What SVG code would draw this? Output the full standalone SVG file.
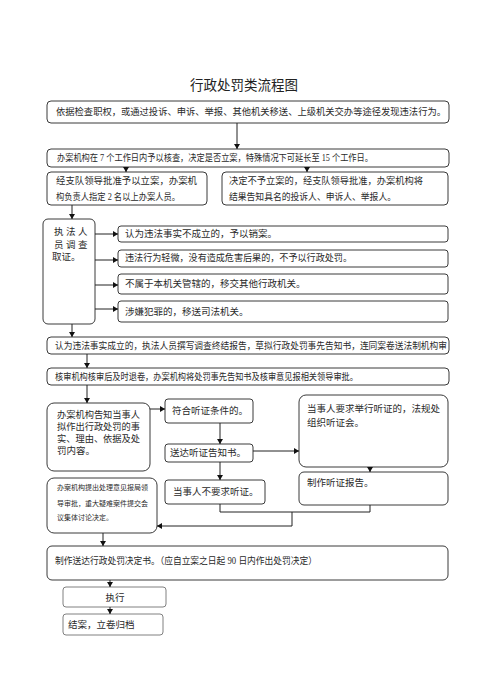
<svg xmlns="http://www.w3.org/2000/svg" width="487" height="699" viewBox="0 0 487 699">
<style>
  .box { fill: #fff; stroke: #3a3a3a; stroke-width: 1; }
  .box2 { fill: #fff; stroke: #808080; stroke-width: 1; }
  text { font-family: "Liberation Serif", "Noto Sans CJK SC", serif; font-size: 9.5px; fill: #2a2a2a; dominant-baseline: central; }
  .sm { font-size: 7px; }
  .title { font-family: "Liberation Sans", "Noto Sans CJK SC", sans-serif; font-size: 13.5px; fill: #222; }
  .c { fill: none; stroke: #222; stroke-width: 1; }
  .a { marker-end: url(#ah); }
</style>
<defs>
  <marker id="ah" markerWidth="6" markerHeight="6" refX="5" refY="3" orient="auto" markerUnits="userSpaceOnUse">
    <path d="M0,0 L5,3 L0,6 Z" fill="#111"/>
  </marker>
</defs>
<rect width="487" height="699" fill="#fff"/>
<text class="title" x="244" y="85" text-anchor="middle">行政处罚类流程图</text>

<g id="n1"><rect class="box" x="47" y="101" width="402" height="22" rx="4"/><text x="56" y="112" textLength="390" lengthAdjust="spacingAndGlyphs">依据检查职权，或通过投诉、申诉、举报、其他机关移送、上级机关交办等途径发现违法行为。</text></g>
<g id="n2"><rect class="box" x="47" y="149" width="402" height="18" rx="4"/><text x="57" y="158" textLength="316" lengthAdjust="spacingAndGlyphs">办案机构在 7 个工作日内予以核查，决定是否立案，特殊情况下可延长至 15 个工作日。</text></g>
<g id="n3"><rect class="box" x="47" y="172" width="160" height="33" rx="4"/><text x="56" y="181" textLength="141" lengthAdjust="spacingAndGlyphs">经支队领导批准予以立案，办案机</text><text x="56" y="197" textLength="124" lengthAdjust="spacingAndGlyphs">构负责人指定 2 名以上办案人员。</text></g>
<g id="n4"><rect class="box" x="222" y="172" width="226" height="33" rx="4"/><text x="229" y="181" textLength="194" lengthAdjust="spacingAndGlyphs">决定不予立案的，经支队领导批准，办案机构将</text><text x="229" y="197" textLength="167" lengthAdjust="spacingAndGlyphs">结果告知具名的投诉人、申诉人、举报人。</text></g>
<g id="n5"><rect class="box" x="43" y="219" width="52" height="105" rx="5"/><text y="232"><tspan x="54">执</tspan> <tspan x="66">法</tspan> <tspan x="78">人</tspan></text><text y="245"><tspan x="54">员</tspan> <tspan x="66">调</tspan> <tspan x="78">查</tspan></text><text x="52" y="257">取证。</text></g>
<g id="n6"><rect class="box" x="118" y="226" width="330" height="16" rx="3"/><text x="125" y="234">认为违法事实不成立的，予以销案。</text></g>
<g id="n7"><rect class="box" x="118" y="250" width="330" height="17" rx="3"/><text x="125" y="258" textLength="227" lengthAdjust="spacingAndGlyphs">违法行为轻微，没有造成危害后果的，不予以行政处罚。</text></g>
<g id="n8"><rect class="box" x="118" y="274" width="330" height="20" rx="3"/><text x="125" y="284">不属于本机关管辖的，移交其他行政机关。</text></g>
<g id="n9"><rect class="box" x="118" y="301" width="330" height="21" rx="3"/><text x="125" y="312">涉嫌犯罪的，移送司法机关。</text></g>
<g id="n10"><rect class="box" x="47" y="337" width="402" height="17" rx="4"/><text x="55" y="346" textLength="392" lengthAdjust="spacingAndGlyphs">认为违法事实成立的，执法人员撰写调查终结报告，草拟行政处罚事先告知书，连同案卷送法制机构审</text></g>
<g id="n11"><rect class="box" x="47" y="368" width="402" height="17" rx="4"/><text x="55" y="377" textLength="303" lengthAdjust="spacingAndGlyphs">核审机构核审后及时退卷，办案机构将处罚事先告知书及核审意见报相关领导审批。</text></g>
<g id="n12"><rect class="box" x="47" y="403" width="103" height="68" rx="7"/><text x="57" y="415" textLength="83" lengthAdjust="spacingAndGlyphs">办案机构告知当事人</text><text x="57" y="427" textLength="83" lengthAdjust="spacingAndGlyphs">拟作出行政处罚的事</text><text x="57" y="439" textLength="83" lengthAdjust="spacingAndGlyphs">实、理由、依据及处</text><text x="57" y="451">罚内容。</text></g>
<g id="n13"><rect class="box" x="165" y="399" width="88" height="24" rx="3"/><text x="172" y="411">符合听证条件的。</text></g>
<g id="n14"><rect class="box" x="165" y="444" width="88" height="18" rx="3"/><text x="170" y="453">送达听证告知书。</text></g>
<g id="n15"><rect class="box" x="299" y="395" width="149" height="72" rx="7"/><text x="307" y="409" textLength="133" lengthAdjust="spacingAndGlyphs">当事人要求举行听证的，法规处</text><text x="307" y="423">组织听证会。</text></g>
<g id="n16"><rect class="box" x="299" y="472" width="149" height="33" rx="5"/><text x="307" y="483">制作听证报告。</text></g>
<g id="n17"><rect class="box" x="165" y="480" width="100" height="24" rx="3"/><text x="173" y="492">当事人不要求听证。</text></g>
<g id="n18"><rect class="box" x="47" y="478" width="110" height="55" rx="7"/><text class="sm" x="57" y="488" textLength="91" lengthAdjust="spacingAndGlyphs">办案机构提出处理意见报局领</text><text class="sm" x="57" y="504" textLength="91" lengthAdjust="spacingAndGlyphs">导审批，重大疑难案件提交会</text><text class="sm" x="57" y="518">议集体讨论决定。</text></g>
<g id="n19"><rect class="box" x="47" y="546" width="401" height="34" rx="5"/><text x="55" y="561" textLength="262" lengthAdjust="spacingAndGlyphs">制作送达行政处罚决定书。（应自立案之日起 90 日内作出处罚决定）</text></g>
<g id="n20"><rect class="box2" x="63" y="587" width="103" height="20" rx="3"/><text x="115" y="598" text-anchor="middle">执行</text></g>
<g id="n21"><rect class="box2" x="63" y="614" width="100" height="21" rx="3"/><text x="68" y="625">结案，立卷归档</text></g>

<g id="connectors">
  <path class="c a" d="M237,123 V149"/>
  <path class="c a" d="M126,167 V172"/>
  <path class="c a" d="M307,167 V172"/>
  <path class="c a" d="M72,205 V219"/>
  <path class="c a" d="M95,234 H118"/>
  <path class="c a" d="M95,260 H118"/>
  <path class="c a" d="M95,285 H118"/>
  <path class="c a" d="M95,309 H118"/>
  <path class="c a" d="M72,324 V337"/>
  <path class="c a" d="M87,354 V368"/>
  <path class="c a" d="M87,385 V403"/>
  <path class="c a" d="M150,409 H165"/>
  <path class="c a" d="M220,423 V444"/>
  <path class="c a" d="M253,451 H299"/>
  <path class="c a" d="M220,462 V480"/>
  <path class="c a" d="M370,467 V472"/>
  <path class="c" d="M220,504 V512 H370 V505"/>
  <path class="c a" d="M292,512 V526 H157"/>
  <path class="c a" d="M103,533 V546"/>
  <path class="c a" d="M110,580 V587"/>
  <path class="c a" d="M110,607 V614"/>
</g>
</svg>
